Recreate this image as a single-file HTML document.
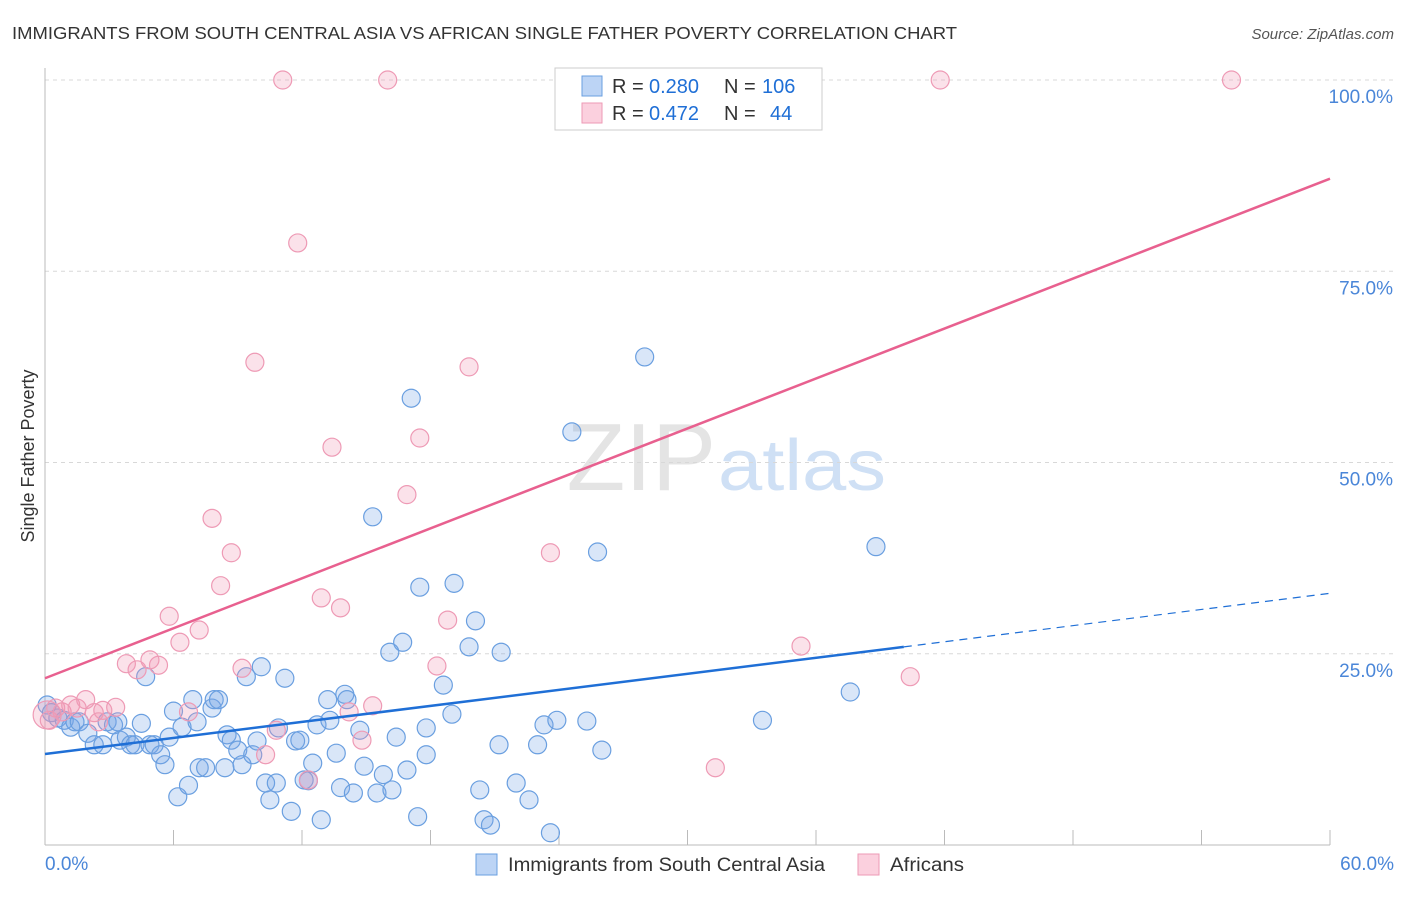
<!DOCTYPE html>
<html><head><meta charset="utf-8"><style>
body{margin:0;background:#fff;font-family:"Liberation Sans",sans-serif;}
svg text{font-family:"Liberation Sans",sans-serif;}
</style></head><body>
<svg id="chart" width="1406" height="892" xmlns="http://www.w3.org/2000/svg">
<text x="12" y="39" font-size="17.5" fill="#333" textLength="945" lengthAdjust="spacingAndGlyphs">IMMIGRANTS FROM SOUTH CENTRAL ASIA VS AFRICAN SINGLE FATHER POVERTY CORRELATION CHART</text>
<text x="1394" y="39" font-size="15" fill="#555" font-style="italic" text-anchor="end">Source: ZipAtlas.com</text>
<text x="716" y="490" font-size="96" fill="#e4e4e4" text-anchor="end" font-family="Liberation Serif">ZIP</text>
<text x="718" y="490" font-size="72" fill="#cfe0f5" textLength="168" lengthAdjust="spacingAndGlyphs">atlas</text>
<g id="grid"></g><g id="axes"></g><g id="marks"></g><g id="lines"></g>
<text x="34" y="456" font-size="18" fill="#333" text-anchor="middle" transform="rotate(-90 34 456)">Single Father Poverty</text>
<g>
<rect x="555" y="68" width="267" height="62" fill="#fff" stroke="#ccc"/>
<rect x="582" y="76" width="20" height="20" fill="#bcd4f5" stroke="#6a9fe0"/>
<rect x="582" y="103" width="20" height="20" fill="#fbd0de" stroke="#ee9ab5"/>
<text x="612" y="93" font-size="20" fill="#333">R =</text>
<text x="649" y="93" font-size="20" fill="#1f6fd6">0.280</text>
<text x="724" y="93" font-size="20" fill="#333">N =</text>
<text x="762" y="93" font-size="20" fill="#1f6fd6">106</text>
<text x="612" y="120" font-size="20" fill="#333">R =</text>
<text x="649" y="120" font-size="20" fill="#1f6fd6">0.472</text>
<text x="724" y="120" font-size="20" fill="#333">N =</text>
<text x="770" y="120" font-size="20" fill="#1f6fd6">44</text>
</g>
<g>
<rect x="476" y="854" width="21" height="21" fill="#bcd4f5" stroke="#6a9fe0"/>
<text x="508" y="871" font-size="19" fill="#333" textLength="317" lengthAdjust="spacingAndGlyphs">Immigrants from South Central Asia</text>
<rect x="858" y="854" width="21" height="21" fill="#fbd0de" stroke="#ee9ab5"/>
<text x="890" y="871" font-size="19" fill="#333" textLength="74" lengthAdjust="spacingAndGlyphs">Africans</text>
</g>
</svg>
<script>
const blueX=[0.1,0.3,0.6,0.9,1.2,1.4,1.6,2.0,2.3,2.7,2.9,3.2,3.4,3.5,3.8,4.0,4.2,4.5,4.7,4.9,5.1,5.4,5.6,5.8,6.0,6.2,6.4,6.7,6.9,7.1,7.2,7.5,7.8,7.9,8.1,8.4,8.5,8.7,9.0,9.2,9.4,9.7,9.9,10.1,10.3,10.5,10.8,10.9,11.2,11.5,11.7,11.9,12.1,12.3,12.5,12.7,12.9,13.2,13.3,13.6,13.8,14.0,14.1,14.4,14.7,14.9,15.3,15.5,15.8,16.1,16.2,16.4,16.7,16.9,17.1,17.4,17.5,17.8,17.8,18.6,19.0,19.1,19.8,20.1,20.3,20.5,20.8,21.2,21.3,22.0,22.6,23.0,23.3,23.6,23.9,24.6,25.3,25.8,26.0,28.0,33.5,37.6,38.8];
const blueY=[18.3,17.3,16.6,16.3,15.4,16.1,16.1,14.6,13.1,13.1,16.1,15.7,16.1,13.7,14.1,13.1,13.1,15.9,22.0,13.1,13.1,11.8,10.5,14.1,17.5,6.3,15.4,7.8,19.0,16.1,10.1,10.1,17.9,19.0,19.0,10.1,14.4,13.7,12.4,10.5,22.0,11.8,13.6,23.3,8.1,5.9,8.1,15.3,21.8,4.4,13.6,13.7,8.5,8.4,10.7,15.7,3.3,19.0,16.3,12.0,7.5,19.7,19.0,6.8,15.0,10.3,42.9,6.8,9.2,25.2,7.2,14.1,26.5,9.8,58.4,3.7,33.7,15.3,11.8,20.9,17.1,34.2,25.9,29.3,7.2,3.3,2.6,13.1,25.2,8.1,5.9,13.1,15.7,1.6,16.3,54.0,16.2,38.3,12.4,63.8,16.3,20.0,39.0];
const pinkX=[0.1,0.2,0.5,0.8,1.2,1.5,1.9,2.3,2.7,3.3,2.5,3.8,4.3,4.9,5.3,5.8,6.3,6.7,7.2,7.8,8.2,8.7,9.2,9.8,10.3,10.8,11.1,11.8,12.3,12.9,13.4,13.8,14.2,14.8,15.3,16.0,16.9,17.5,18.3,18.8,19.8,23.6,31.3,35.3,40.4,41.8,55.4];
const pinkY=[17.0,16.3,17.9,17.4,18.3,17.9,19.0,17.3,17.6,18.0,16.1,23.7,22.9,24.2,23.5,29.9,26.5,17.4,28.1,42.7,33.9,38.2,23.1,63.1,11.8,15.0,100,78.7,8.5,32.3,52.0,31.0,17.4,13.7,18.2,100,45.8,53.2,23.4,29.4,62.5,38.2,10.1,26.0,22.0,100,100];
const yTicks=[25,50,75,100];
const xTickLabels=["0.0%","60.0%"];
const blueTrend=[11.9,25.9,32.9]; // at x=0, 40.1, 60
const pinkTrend=[21.8,87.1];
const NS="http://www.w3.org/2000/svg";
const xs=v=>45+v/60*1285, ys=v=>845-v/100*765;
function mk(t,a,p){const e=document.createElementNS(NS,t);for(const k in a)e.setAttribute(k,a[k]);p.appendChild(e);return e;}
const grid=document.getElementById('grid'),axes=document.getElementById('axes'),marks=document.getElementById('marks'),lines=document.getElementById('lines');
yTicks.forEach(v=>{
 const l=mk('line',{x1:45,x2:1394,y1:ys(v),y2:ys(v),stroke:'#d8d8d8','stroke-dasharray':'4,4'},grid);
 
 
 const t=mk('text',{x:1393,y:ys(v)+23,'font-size':19,fill:'#4a86d8','text-anchor':'end'},axes);
 t.textContent=v.toFixed(1)+'%';
 
 
});
mk('line',{x1:45,x2:45,y1:68,y2:845,stroke:'#bbb'},axes);
mk('line',{x1:45,x2:1330,y1:845,y2:845,stroke:'#bbb'},axes);
for(let i=1;i<=10;i++){const x=xs(i*6);mk('line',{x1:x,x2:x,y1:830,y2:845,stroke:'#bbb'},axes);}
[[0,'start',45],[60,'end',1394]].forEach((d,i)=>{
 const t=mk('text',{x:d[2],y:870,'font-size':19,fill:'#4a86d8','text-anchor':d[1]},axes);
 t.textContent=xTickLabels[i];
 
 
});
blueX.forEach((x,i)=>{
 const c=mk('circle',{cx:xs(x),cy:ys(blueY[i]),r:9,fill:'rgba(120,165,230,0.28)',stroke:'#6a9fe0','stroke-width':1.2},marks);
 
 
});
pinkX.forEach((x,i)=>{
 const c=mk('circle',{cx:xs(x),cy:ys(pinkY[i]),r:i==0?14:9,fill:'rgba(240,150,180,0.28)',stroke:'#ee9ab5','stroke-width':1.2},marks);
 
 
});
let l=mk('line',{x1:xs(0),y1:ys(blueTrend[0]),x2:xs(40.1),y2:ys(blueTrend[1]),stroke:'#1f6fd6','stroke-width':2.5},lines);


l=mk('line',{x1:xs(40.1),y1:ys(blueTrend[1]),x2:xs(60),y2:ys(blueTrend[2]),stroke:'#1f6fd6','stroke-width':1.2,'stroke-dasharray':'8,6'},lines);


l=mk('line',{x1:xs(0),y1:ys(pinkTrend[0]),x2:xs(60),y2:ys(pinkTrend[1]),stroke:'#e8608f','stroke-width':2.5},lines);


</script>
</body></html>
